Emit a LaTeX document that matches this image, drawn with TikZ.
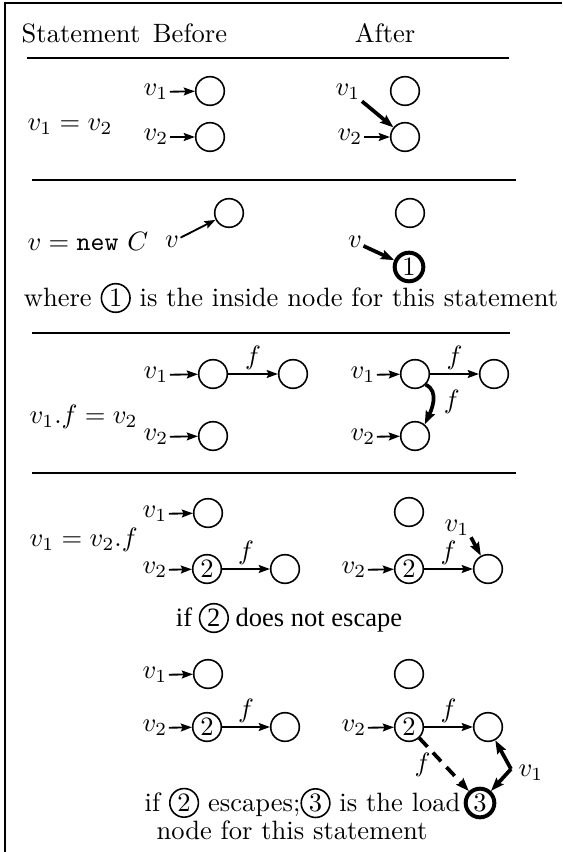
\documentclass[tikz,border=0pt]{standalone}
\usepackage{fontspec}
\newfontfamily\timesfont{Liberation Serif}
\usetikzlibrary{arrows.meta}
\newcommand{\cnum}[1]{\tikz[baseline=(cn.base)]\node[circle,draw,line width=0.6pt,inner sep=0.4pt,minimum size=10.8pt](cn){#1};}
\begin{document}
\begin{tikzpicture}[x=0.377pt,y=-0.377pt,
 obj/.style={circle,draw,line width=0.6pt,minimum size=10.8pt,inner sep=0pt},
 bobj/.style={obj,line width=1.5pt},
 lbl/.style={inner sep=0.4pt},
 ptr/.style={-{Stealth[length=4.2pt,width=3pt,inset=0.7pt]},line width=0.7pt},
 bptr/.style={-{Stealth[length=5pt,width=3.6pt,inset=0.8pt]},line width=1.4pt},
 rule/.style={line width=0.6pt},
 txt/.style={inner sep=0pt}
]
\useasboundingbox (0,0) rectangle (562,852);
% frame
\draw[rule] (5,852) -- (5,3) -- (562,3);
% header
\node[txt] (hs) at (81,33) {Statement};
\node[txt] (hb) at (190,33) {Before};
\node[txt] (ha) at (385,33) {After};
\draw[rule] (27,58) -- (509,58);

% ---- row 1
\node[txt,anchor=west] (s1) at (27,127) {$v_1 = v_2$};
\node[lbl] (r1a) at (156,92) {$v_1$};
\node[obj] (r1o1) at (210,91) {};
\node[lbl] (r1b) at (156,137) {$v_2$};
\node[obj] (r1o2) at (210,137) {};
\draw[ptr] (r1a) -- (r1o1);
\draw[ptr] (r1b) -- (r1o2);
\node[lbl] (r1c) at (348,92) {$v_1$};
\node[obj] (r1o3) at (405,91) {};
\node[lbl] (r1d) at (350,137) {$v_2$};
\node[obj] (r1o4) at (405,137) {};
\draw[bptr] (r1c.south east) -- (r1o4);
\draw[ptr] (r1d) -- (r1o4);
\draw[rule] (32,180) -- (516,180);

% ---- row 2
\node[txt,anchor=west] (s2) at (27,242) {$v = \texttt{new}\ C$};
\node[lbl] (r2a) at (172,242) {$v$};
\node[obj] (r2o1) at (229,213) {};
\draw[ptr] (r2a) -- (r2o1);
\node[obj] (r2o2) at (410,213) {};
\node[lbl] (r2b) at (355,242) {$v$};
\node[bobj] (r2o3) at (409,267) {1};
\draw[bptr] (r2b) -- (r2o3);
\node[txt] (w2) at (291,298) {where \cnum{1} is the inside node for this statement};
\draw[rule] (32,333) -- (510,333);

% ---- row 3
\node[txt,anchor=west] (s3) at (29,417) {$v_1.f = v_2$};
\node[lbl] (r3a) at (156,375) {$v_1$};
\node[obj] (r3o1) at (213,374) {};
\node[obj] (r3o2) at (293,374) {};
\node[lbl] (r3b) at (156,437) {$v_2$};
\node[obj] (r3o3) at (213,436) {};
\draw[ptr] (r3a) -- (r3o1);
\draw[ptr] (r3o1) -- node[lbl,above=1pt] (r3f) {$f$} (r3o2);
\draw[ptr] (r3b) -- (r3o3);
\node[lbl] (r3c) at (363,375) {$v_1$};
\node[obj] (r3o4) at (415,374) {};
\node[obj] (r3o5) at (494,374) {};
\node[lbl] (r3d) at (363,437) {$v_2$};
\node[obj] (r3o6) at (415,436) {};
\draw[ptr] (r3c) -- (r3o4);
\draw[ptr] (r3o4) -- node[lbl,above=1pt] (r3g) {$f$} (r3o5);
\draw[ptr] (r3d) -- (r3o6);
\draw[bptr] (r3o4.-45) to[out=-25,in=65] node[lbl,right=3pt] (r3h) {$f$} (r3o6.50);
\draw[rule] (32,473) -- (516,473);

% ---- row 4
\node[txt,anchor=west] (s4) at (29,540) {$v_1 = v_2.f$};
\node[lbl] (r4a) at (155,514) {$v_1$};
\node[obj] (r4o1) at (208,513) {};
\node[lbl] (r4b) at (155,570) {$v_2$};
\node[obj] (r4o2) at (207,569) {2};
\node[obj] (r4o3) at (285,569) {};
\draw[ptr] (r4a) -- (r4o1);
\draw[ptr] (r4b) -- (r4o2);
\draw[ptr] (r4o2) -- node[lbl,above=1pt] (r4f) {$f$} (r4o3);
\node[obj] (r4o4) at (409,512) {};
\node[lbl] (r4c) at (354,570) {$v_2$};
\node[obj] (r4o5) at (409,569) {2};
\node[obj] (r4o6) at (488,569) {};
\draw[ptr] (r4c) -- (r4o5);
\draw[ptr] (r4o5) -- node[lbl,above=1pt] (r4g) {$f$} (r4o6);
\node[lbl] (r4d) at (457,528) {$v_1$};
\draw[bptr] (r4d.south east) -- (r4o6);
\node[txt] (w4) at (289,618) {\timesfont if \cnum{2} does not escape};

% ---- row 5
\node[lbl] (r5a) at (155,675) {$v_1$};
\node[obj] (r5o1) at (208,674) {};
\node[lbl] (r5b) at (155,728) {$v_2$};
\node[obj] (r5o2) at (207,727) {2};
\node[obj] (r5o3) at (285,727) {};
\draw[ptr] (r5a) -- (r5o1);
\draw[ptr] (r5b) -- (r5o2);
\draw[ptr] (r5o2) -- node[lbl,above=1pt] (r5f) {$f$} (r5o3);
\node[obj] (r5o4) at (409,674) {};
\node[lbl] (r5c) at (354,728) {$v_2$};
\node[obj] (r5o5) at (409,727) {2};
\node[obj] (r5o6) at (488,727) {};
\draw[ptr] (r5c) -- (r5o5);
\draw[ptr] (r5o5) -- node[lbl,above=1pt] (r5g) {$f$} (r5o6);
\node[bobj] (r5o7) at (480,803) {3};
\draw[bptr,dash pattern=on 4.5pt off 3pt] (r5o5) -- node[lbl,left=4pt,pos=0.5] (r5h) {$f$} (r5o7);
\coordinate (r5k) at (511,769);
\draw[bptr] (r5k) -- (r5o6);
\draw[bptr] (r5k) -- (r5o7);
\node[lbl,anchor=west] (r5v) at (517,773) {$v_1$};
\node[txt,anchor=east] (w5) at (461,803) {if \cnum{2} escapes;\cnum{3} is the load};
\node[txt] (w6) at (292,830) {node for this statement};
\end{tikzpicture}
\end{document}
